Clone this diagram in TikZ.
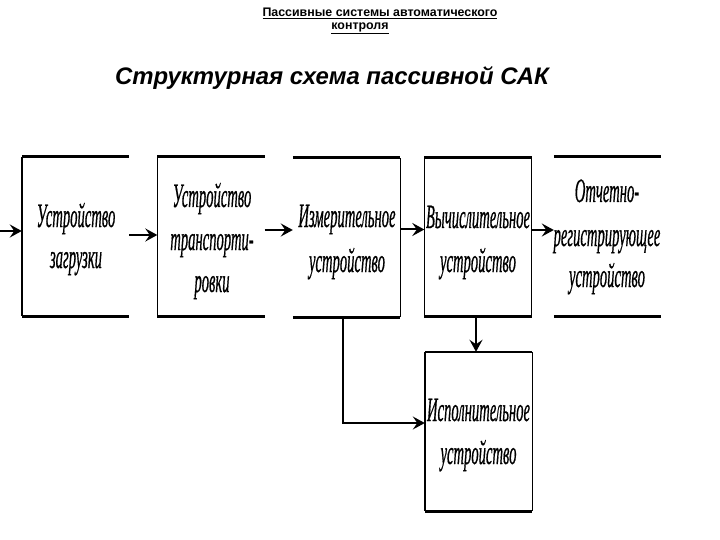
\documentclass[tikz,border=0pt]{standalone}
\usepackage{fontspec}
\setmainfont{Liberation Serif}
\setsansfont{Liberation Sans}
\usetikzlibrary{arrows.meta}
\tikzset{
  blk/.style={rectangle, minimum width=107pt, minimum height=159pt, inner sep=0pt},
  txt/.style={anchor=base, inner sep=0pt, xscale=0.43, font=\fontsize{34}{43}\selectfont\itshape\addfontfeatures{FakeBold=0.9}},
  hline/.style={line width=2.6pt},
  vline/.style={line width=1.4pt},
  tip/.style={-{Stealth[length=12pt,width=13pt,inset=4.5pt]}},
  arr/.style={line width=2pt, tip},
}
\begin{document}
\begin{tikzpicture}[x=1pt,y=-1pt]
\useasboundingbox (0,0) rectangle (720,540);
% titles
\node[font=\sffamily\bfseries\fontsize{12.4}{14}\selectfont] (t1) at (380,13) {\underline{Пассивные системы автоматического}};
\node[font=\sffamily\bfseries\fontsize{12.4}{14}\selectfont] (t2) at (360,28) {\underline{контроля}};
\node[font=\sffamily\bfseries\itshape\fontsize{23.9}{27}\selectfont] (tt) at (332,78) {Структурная схема пассивной САК};
% blocks
\node[blk] (b1) at (75.5,236.5) {};
\node[blk] (b2) at (211,236.5) {};
\node[blk] (b3) at (346.5,237.5) {};
\node[blk] (b4) at (478,237) {};
\node[blk] (b5) at (607.5,236.5) {};
\node[blk] (b6) at (478.5,431.5) {};
% texts
\node[txt] (b1a) at (76,227) {Устройство};
\node[txt] (b1b) at (76,268) {загрузки};
\node[txt] (b2a) at (212,207) {Устройство};
\node[txt] (b2b) at (212,250) {транспорти-};
\node[txt] (b2c) at (212,292) {ровки};
\node[txt] (b3a) at (347,227) {Измерительное};
\node[txt] (b3b) at (347,272) {устройство};
\node[txt] (b4a) at (478,228) {Вычислительное};
\node[txt] (b4b) at (478,272) {устройство};
\node[txt] (b5a) at (607,202) {Отчетно-};
\node[txt] (b5b) at (607,246) {регистрирующее};
\node[txt] (b5c) at (607,287) {устройство};
\node[txt] (b6a) at (478.5,421) {Исполнительное};
\node[txt] (b6b) at (478.5,464) {устройство};
% horizontal lines
\foreach \b in {b1,b2,b3,b4,b5,b6}{
  \draw[hline] (\b.north west) -- (\b.north east);
  \draw[hline] (\b.south west) -- (\b.south east);
}
% vertical sides
\draw[vline] (b1.north west) -- (b1.south west);
\draw[vline] (b2.north west) -- (b2.south west);
\draw[vline] (b3.north east) -- (b3.south east);
\draw[vline] (b4.north west) -- (b4.south west);
\draw[vline] (b4.north east) -- (b4.south east);
\draw[vline] (b6.north west) -- (b6.south west);
\draw[vline] (b6.north east) -- (b6.south east);
% arrows
\coordinate (in) at (0,231);
\draw[arr] (in) -- (in -| b1.west);
\draw[arr] ([yshift=1.5pt]b1.east) -- ([yshift=1.5pt]b2.west);
\draw[arr] ([yshift=6.5pt]b2.east) -- ([yshift=6.5pt]b2.east -| b3.west);
\draw[arr] ([yshift=8pt]b3.east) -- ([yshift=8pt]b3.east -| b4.west);
\draw[arr] ([yshift=7pt]b4.east) -- ([yshift=7pt]b4.east -| b5.west);
\draw[arr] ([xshift=-2pt]b4.south) -- ([xshift=-2pt]b4.south |- b6.north);
\draw[line width=1.6pt, tip] ([xshift=-3.5pt]b3.south) |- ([yshift=8.5pt]b6.west);
\end{tikzpicture}
\end{document}
